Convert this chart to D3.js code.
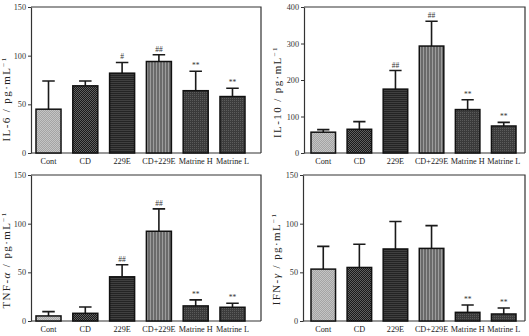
<!DOCTYPE html>
<html>
<head>
<meta charset="utf-8">
<script src="https://cdn.jsdelivr.net/npm/d3@7"></script>
<style>
  body { margin: 0; background: #fff; }
  text { font-family: "Liberation Serif", "DejaVu Serif", serif; }
</style>
</head>
<body>
<div id="d3chart"></div>
<script>
// DATA ===========================================================================================
const groups = ['Cont', 'CD', '229E', 'CD+229E', 'Matrine H', 'Matrine L']

const il6Mean = [45, 69, 82, 94, 64, 58]
const il6Err = [29, 5, 11, 7, 20, 8.5]
const il6Marks = ['', '', '#', '##', '**', '**']

const il10Mean = [57, 65, 175, 293, 119, 74]
const il10Err = [7, 21, 51, 68, 27, 10]
const il10Marks = ['', '', '##', '##', '**', '**']

const tnfMean = [5.2, 7.9, 45.4, 92.2, 15.5, 14.1]
const tnfErr = [4.4, 6.5, 12.4, 23, 6.2, 4.1]
const tnfMarks = ['', '', '##', '##', '**', '**']

const ifnMean = [53.3, 55, 74, 74.6, 8.9, 7.2]
const ifnErr = [23.4, 23.8, 28.2, 23.4, 7.6, 6.2]
const ifnMarks = ['', '', '', '', '**', '**']

const ticks150 = [0, 50, 100, 150]
const ticks400 = [0, 100, 200, 300, 400]

// SET UP =========================================================================================
const width = 529
const height = 336

const svg = d3.select('#d3chart')
  .append('svg')
  .attr('width', width)
  .attr('height', height)

// fill patterns, one per group
const defs = svg.append('defs')

function pattern(id, w, h, bg, draw) {
  const p = defs.append('pattern')
    .attr('id', id)
    .attr('patternUnits', 'userSpaceOnUse')
    .attr('width', w)
    .attr('height', h)
  p.append('rect').attr('width', w).attr('height', h).attr('fill', bg)
  draw(p)
}

pattern('p0', 2, 2, '#a4a4a4', p => {
  p.append('rect').attr('width', 1).attr('height', 1).attr('fill', '#c4c4c4')
  p.append('rect').attr('x', 1).attr('y', 1).attr('width', 1).attr('height', 1).attr('fill', '#c4c4c4')
})
pattern('p1', 2, 2, '#1a1a1a', p => {
  p.append('rect').attr('width', 1).attr('height', 1).attr('fill', '#606060')
  p.append('rect').attr('x', 1).attr('y', 1).attr('width', 1).attr('height', 1).attr('fill', '#606060')
})
pattern('p2', 3, 2, '#242424', p => {
  p.append('rect').attr('width', 3).attr('height', 1).attr('fill', '#404040')
})
pattern('p3', 3, 3, '#6a6a6a', p => {
  p.append('rect').attr('width', 1).attr('height', 3).attr('fill', '#9c9c9c')
})
pattern('p4', 2, 2, '#3a3a3a', p => {
  p.append('rect').attr('width', 1).attr('height', 1).attr('fill', '#5a5a5a')
})
pattern('p5', 2, 2, '#3c3c3c', p => {
  p.append('rect').attr('width', 1).attr('height', 1).attr('fill', '#5c5c5c')
})

const fills = ['url(#p0)', 'url(#p1)', 'url(#p2)', 'url(#p3)', 'url(#p4)', 'url(#p5)']

// one panel ======================================================================================
function panel(cfg) {
  const g = svg.append('g')

  const y = d3.scaleLinear()
    .domain([0, cfg.max])
    .range([cfg.bottom, cfg.top])

  const x = d3.scaleBand()
    .domain(groups)
    .range([cfg.barStart, cfg.barEnd])
    .paddingInner(0.32)
    .paddingOuter(0)

  // frame
  g.append('path')
    .attr('d', `M${cfg.left},${cfg.top}H${cfg.right}V${cfg.bottom}`)
    .attr('fill', 'none')
    .attr('stroke', '#333')
    .attr('stroke-width', 1.2)

  // bottom axis
  const xAxis = g.append('g')
    .attr('transform', `translate(0, ${cfg.bottom})`)
    .call(d3.axisBottom(x).tickSize(0).tickPadding(5))
  xAxis.select('.domain')
    .attr('d', `M${cfg.left},0H${cfg.right}`)
    .attr('stroke', '#333')
    .attr('stroke-width', 1.2)
  xAxis.selectAll('text')
    .attr('font-size', 8.2)
    .attr('fill', '#222')
    .attr('font-family', '"Liberation Serif", serif')

  // left axis
  const yAxis = g.append('g')
    .attr('transform', `translate(${cfg.left}, 0)`)
    .call(d3.axisLeft(y).tickValues(cfg.ticks).tickSize(3).tickSizeOuter(0).tickPadding(2))
  yAxis.select('.domain').attr('stroke', '#333').attr('stroke-width', 1.2)
  yAxis.selectAll('.tick line').attr('stroke', '#333')
  yAxis.selectAll('text')
    .attr('font-size', 8.2)
    .attr('fill', '#333')
    .attr('font-family', '"Liberation Serif", serif')

  // y label
  const lab = g.append('text')
    .attr('transform', `translate(${cfg.labelX}, ${cfg.labelY}) rotate(-90)`)
    .attr('text-anchor', 'middle')
    .attr('font-size', 11)
    .attr('letter-spacing', 1.4)
    .attr('fill', '#222')
  lab.append('tspan').text(cfg.name)
  if (cfg.greek) lab.append('tspan').attr('font-style', 'italic').text(cfg.greek)
  lab.append('tspan').text(' / pg·mL')
  lab.append('tspan').attr('font-size', 7).attr('dy', -4).text('−1')

  const data = groups.map((d, i) => ({ group: d, mean: cfg.mean[i], err: cfg.err[i], mark: cfg.marks[i], fill: fills[i] }))

  // MARKS ==========================================================================================
  const bw = x.bandwidth()

  // error bars behind the bars
  g.selectAll('.err')
    .data(data)
    .join('path')
      .attr('class', 'err')
      .attr('d', d => {
        const cx = x(d.group) + bw / 2
        return `M${cx},${y(d.mean)}V${y(d.mean + d.err)}M${cx - bw / 4},${y(d.mean + d.err)}H${cx + bw / 4}`
      })
      .attr('fill', 'none')
      .attr('stroke', '#1a1a1a')
      .attr('stroke-width', 1.6)

  g.selectAll('.bar')
    .data(data)
    .join('rect')
      .attr('class', 'bar')
      .attr('x', d => x(d.group))
      .attr('y', d => y(d.mean))
      .attr('width', bw)
      .attr('height', d => y(0) - y(d.mean))
      .attr('fill', d => d.fill)
      .attr('stroke', '#111')
      .attr('stroke-width', 1.5)

  g.selectAll('.mark')
    .data(data.filter(d => d.mark))
    .join('text')
      .attr('class', 'mark')
      .attr('x', d => x(d.group) + bw / 2)
      .attr('y', d => y(d.mean + d.err) - 3)
      .attr('text-anchor', 'middle')
      .attr('font-size', 7.5)
      .attr('fill', '#333')
      .text(d => d.mark)
}

panel({ name: 'IL-6', mean: il6Mean, err: il6Err, marks: il6Marks, max: 150, ticks: ticks150,
  left: 31, right: 261, top: 7, bottom: 153, barStart: 36, barEnd: 245, labelX: 10, labelY: 99 })
panel({ name: 'IL-10', mean: il10Mean, err: il10Err, marks: il10Marks, max: 400, ticks: ticks400,
  left: 304, right: 525, top: 7, bottom: 153, barStart: 311, barEnd: 516, labelX: 281, labelY: 92 })
panel({ name: 'TNF-', greek: 'α', mean: tnfMean, err: tnfErr, marks: tnfMarks, max: 150, ticks: ticks150,
  left: 31, right: 261, top: 175, bottom: 321, barStart: 36, barEnd: 245, labelX: 10, labelY: 260 })
panel({ name: 'IFN-', greek: 'γ', mean: ifnMean, err: ifnErr, marks: ifnMarks, max: 150, ticks: ticks150,
  left: 303, right: 525, top: 175, bottom: 321, barStart: 311, barEnd: 516, labelX: 280, labelY: 259 })
</script>
</body>
</html>
